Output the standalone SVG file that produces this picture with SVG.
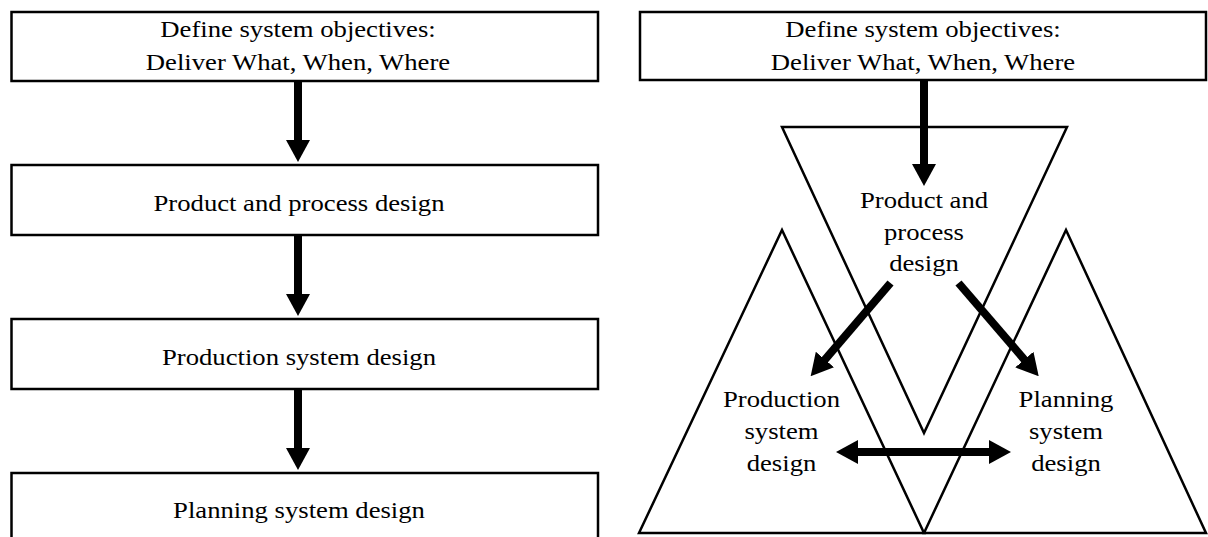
<svg xmlns="http://www.w3.org/2000/svg" width="1208" height="537" viewBox="0 0 1208 537">
  <style>
    .box { fill: #fff; stroke: #000; stroke-width: 2.5; }
    .tri { fill: none; stroke: #000; stroke-width: 2.5; stroke-linejoin: miter; }
    .lbl { font-family: "Liberation Serif", "Times New Roman", serif; font-size: 23px; fill: #000; text-anchor: middle; }
    .conn { stroke: #000; stroke-width: 8; fill: none; }
  </style>
  <defs>
    <marker id="ah" viewBox="0 0 22 24" refX="1" refY="12" markerWidth="22" markerHeight="24" markerUnits="userSpaceOnUse" orient="auto-start-reverse">
      <path d="M0,0 L22,12 L0,24 z" fill="#000"/>
    </marker>
  </defs>
  <rect width="1208" height="537" fill="#fff"/>

  <!-- Left flow -->
  <g id="l-objectives">
    <rect class="box" x="11.5" y="12" width="586.5" height="69"/>
    <text class="lbl" transform="translate(298,37) scale(1.16,1)"><tspan x="0" y="0">Define system objectives:</tspan><tspan x="0" y="33">Deliver What, When, Where</tspan></text>
  </g>
  <g id="l-product">
    <rect class="box" x="11.5" y="165" width="586.5" height="70"/>
    <text class="lbl" transform="translate(299,211) scale(1.16,1)">Product and process design</text>
  </g>
  <g id="l-production">
    <rect class="box" x="11.5" y="319" width="586.5" height="70"/>
    <text class="lbl" transform="translate(299,365) scale(1.16,1)">Production system design</text>
  </g>
  <g id="l-planning">
    <rect class="box" x="11.5" y="473" width="586.5" height="80"/>
    <text class="lbl" transform="translate(299,518) scale(1.16,1)">Planning system design</text>
  </g>

  <!-- Right diagram -->
  <g id="r-objectives">
    <rect class="box" x="640" y="12" width="566" height="68"/>
    <text class="lbl" transform="translate(923,37) scale(1.16,1)"><tspan x="0" y="0">Define system objectives:</tspan><tspan x="0" y="33">Deliver What, When, Where</tspan></text>
  </g>
  <g id="r-product">
    <polygon class="tri" points="782,127 1067,127 924,433"/>
    <text class="lbl" transform="translate(924,208) scale(1.16,1)"><tspan x="0" y="0">Product and</tspan><tspan x="0" y="32">process</tspan><tspan x="0" y="63">design</tspan></text>
  </g>
  <g id="r-production">
    <polygon class="tri" points="639,533 782,230 924,533"/>
    <text class="lbl" transform="translate(781.5,407) scale(1.16,1)"><tspan x="0" y="0">Production</tspan><tspan x="0" y="32">system</tspan><tspan x="0" y="64">design</tspan></text>
  </g>
  <g id="r-planning">
    <polygon class="tri" points="924,533 1066,230 1206,533"/>
    <text class="lbl" transform="translate(1066,407) scale(1.16,1)"><tspan x="0" y="0">Planning</tspan><tspan x="0" y="32">system</tspan><tspan x="0" y="64">design</tspan></text>
  </g>

  <!-- Connectors -->
  <g id="connectors">
    <line class="conn" x1="298" y1="81" x2="298" y2="141" marker-end="url(#ah)"/>
    <line class="conn" x1="298" y1="235" x2="298" y2="295" marker-end="url(#ah)"/>
    <line class="conn" x1="298" y1="389" x2="298" y2="449" marker-end="url(#ah)"/>
    <line class="conn" x1="924" y1="80" x2="924" y2="165" marker-end="url(#ah)"/>
    <line class="conn" x1="890.5" y1="283" x2="824.3" y2="360.3" marker-end="url(#ah)"/>
    <line class="conn" x1="958.5" y1="283" x2="1025" y2="360.3" marker-end="url(#ah)"/>
    <line class="conn" x1="857" y1="452" x2="990" y2="452" marker-start="url(#ah)" marker-end="url(#ah)"/>
  </g>
</svg>
